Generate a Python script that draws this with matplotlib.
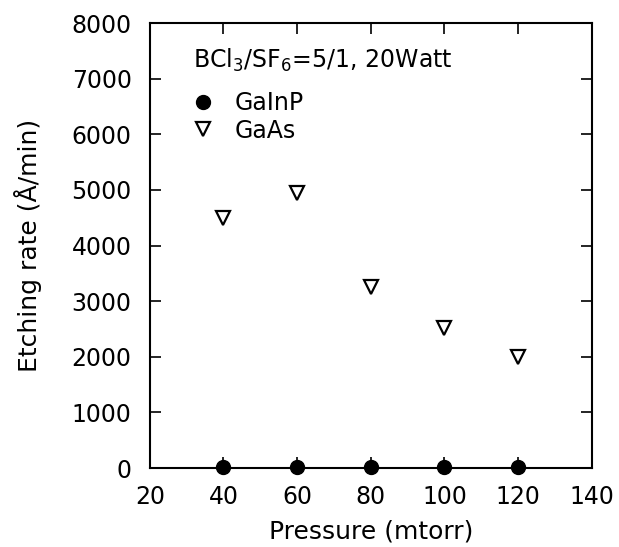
import matplotlib
matplotlib.use('Agg')
import matplotlib.pyplot as plt

# etching rate vs chamber pressure, BCl3/SF6 = 5/1 at 20 W
pressure = [40, 60, 80, 100, 120]
rate_gainp = [15, 15, 15, 20, 15]
rate_gaas = [4500, 4950, 3250, 2520, 2000]

x_ticks = [20, 40, 60, 80, 100, 120, 140]
y_ticks = [0, 1000, 2000, 3000, 4000, 5000, 6000, 7000, 8000]

plt.rcParams['font.family'] = ['DejaVu Sans']
plt.rcParams['mathtext.fontset'] = 'dejavusans'

fig = plt.figure(figsize=(6.19, 5.47), dpi=100)
ax = fig.add_axes([0.242, 0.1444, 0.714, 0.8135])

ax.plot(pressure, rate_gainp, 'o', color='black', markersize=10,
        clip_on=False, zorder=5, label='GaInP')
ax.plot(pressure, rate_gaas, 'v', markerfacecolor='white',
        markeredgecolor='black', markeredgewidth=1.6, markersize=10,
        clip_on=False, zorder=5, label='GaAs')

ax.set_xlim(20, 140)
ax.set_ylim(0, 8000)
ax.set_xticks(x_ticks)
ax.set_yticks(y_ticks)
ax.tick_params(direction='in', length=8, width=1.2, top=True, right=True,
               labelsize=17)
ax.tick_params(axis='y', pad=13)
ax.tick_params(axis='x', pad=12)
for s in ax.spines.values():
    s.set_linewidth(1.5)

ax.set_xlabel('Pressure (mtorr)', fontsize=18, labelpad=8)
ax.set_ylabel('Etching rate (\u00c5/min)', fontsize=18, labelpad=21)

ax.text(0.097, 0.915, r'BCl$_3$/SF$_6$=5/1, 20Watt', transform=ax.transAxes,
        fontsize=17, va='center', ha='left')
ax.legend(loc='upper left', bbox_to_anchor=(0.094, 0.847), frameon=False,
          fontsize=17, handletextpad=0.84, labelspacing=0.15,
          handlelength=1.0, borderaxespad=0, borderpad=0)

fig.savefig('out.png', dpi=100)
